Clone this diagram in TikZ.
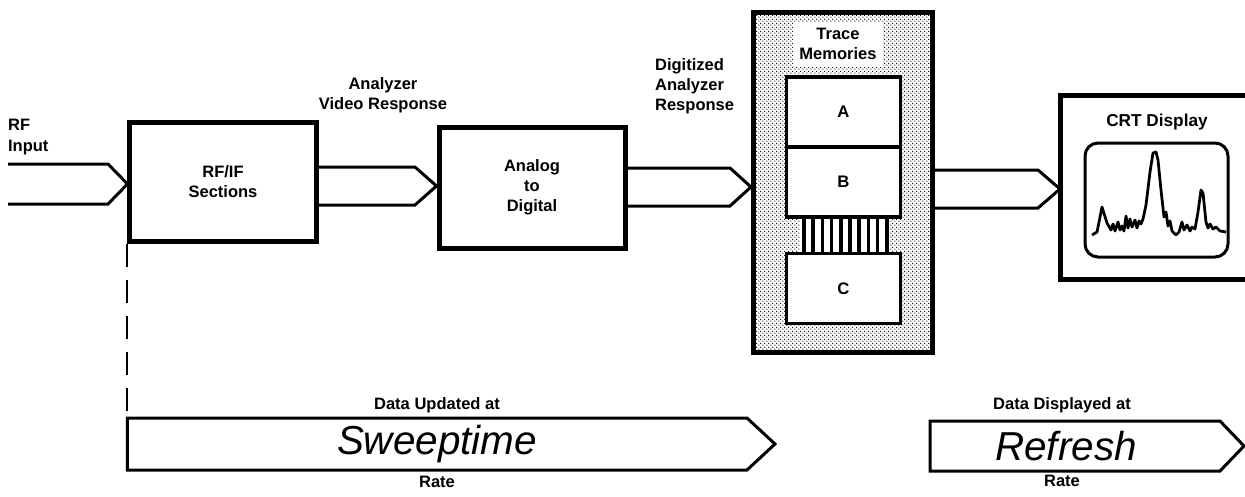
\documentclass[tikz,border=0pt]{standalone}
\usepackage{fontspec}
\setmainfont{Liberation Sans}
\usetikzlibrary{patterns}
\pgfdeclarepatternformonly{memdots}{\pgfpointorigin}{\pgfqpoint{2.4pt}{2.4pt}}{\pgfqpoint{2.4pt}{2.4pt}}{%
  \pgfpathcircle{\pgfqpoint{0.6pt}{0.6pt}}{0.42pt}%
  \pgfpathcircle{\pgfqpoint{1.8pt}{1.8pt}}{0.42pt}%
  \pgfusepath{fill}}
\tikzset{
  blok/.style   = {rectangle, draw, line width=1mm, font=\fontsize{9.4}{11.5}\selectfont\bfseries, align=center},
  mem/.style    = {rectangle, draw, line width=0.65mm, fill=white, minimum width=22.8mm, minimum height=14mm, font=\fontsize{9.5}{11.5}\selectfont\bfseries},
  et/.style     = {font=\fontsize{9.4}{11.5}\selectfont\bfseries, align=center, inner sep=1pt},
  bigtxt/.style = {font=\fontsize{23}{26}\selectfont\itshape, inner sep=0pt},
  bus/.style    = {line width=0.6mm},
  heavy/.style  = {line width=1mm},
  flag/.style   = {line width=0.6mm, line join=miter},
  bar/.style    = {line width=0.75mm},
  dashline/.style = {line width=0.4mm, dash pattern=on 4.6mm off 2.6mm}
}
\begin{document}
\begin{tikzpicture}[x=0.2mm, y=-0.2mm]
  \useasboundingbox (0,0) rectangle (1245,497);

  % main blocks
  \node[blok, minimum width=37.2mm, minimum height=23.8mm] (rfif) at (223,181.5) {RF/IF\\Sections};
  \node[blok, minimum width=37.2mm, minimum height=24.2mm] (adc) at (532,187.5) {Analog\\to\\Digital};
  \node[blok, pattern=memdots, minimum width=35.8mm, minimum height=68mm] (trace) at (843,182.5) {};

  % trace memories
  \node[et, fill=white, minimum width=18mm, minimum height=9mm] (tlbl) at (838,44) {Trace\\Memories};
  \node[mem] (memA) at (843.5,112) {A};
  \node[mem] (memB) at (843.5,182) {B};
  \node[mem] (memC) at (843.5,288.5) {C};
  \fill[white] (800,0 |- memB.south) rectangle (890,0 |- memC.north);
  \foreach \x in {804,813.2,...,888}
    \draw[bar] (\x,0 |- memB.south) -- (\x,0 |- memC.north);

  % CRT
  \coordinate (crtNW) at (1060,95);
  \coordinate (crtSW) at (1060,279);
  \draw[heavy] (1245,95) -- (crtNW) -- (crtSW) -- (1245,279);
  \node[et, font=\fontsize{9.8}{11.5}\selectfont\bfseries] (crtlbl) at (1157,122) {CRT Display};
  \draw[bus, rounded corners=2.6mm] (1085,143) rectangle (1228,257);
  \draw[line width=0.55mm, line join=round] (1092,235) -- (1097,232) -- (1102,207) -- (1107,223) -- (1111,230)
    -- (1113,224) -- (1115,231) -- (1118,222) -- (1120,230) -- (1122,226) -- (1124,231) -- (1126,216)
    -- (1128,228) -- (1130,219) -- (1132,227) -- (1135,220) -- (1137,228) -- (1139,221) -- (1141,224)
    -- (1143,219) -- (1146,205) -- (1150,172) -- (1153,153) -- (1156,152) -- (1158,160) -- (1161,190)
    -- (1164,217) -- (1166,212) -- (1168,226) -- (1170,221) -- (1172,231) -- (1176,235) -- (1179,232)
    -- (1182,222) -- (1184,230) -- (1187,225) -- (1190,231) -- (1192,227) -- (1195,229) -- (1198,212)
    -- (1201,190) -- (1203,193) -- (1206,222) -- (1208,228) -- (1210,224) -- (1213,229) -- (1216,227)
    -- (1220,231) -- (1226,232);

  % bus arrows
  \coordinate (rfsrc) at (8,184);
  \draw[bus] (rfsrc |- 0,164) -- (108,164) -- (rfif.west |- 0,184) -- (108,204) -- (rfsrc |- 0,204);
  \draw[bus] (rfif.east |- 0,167) -- (415,167) -- (adc.west |- 0,186) -- (415,205) -- (rfif.east |- 0,205);
  \draw[bus] (adc.east |- 0,168) -- (730,168) -- (trace.west |- 0,187) -- (730,206) -- (adc.east |- 0,206);
  \draw[bus] (trace.east |- 0,170) -- (1038,170) -- (crtNW |- 0,189) -- (1038,208) -- (trace.east |- 0,208);

  % labels
  \node[et, align=left, anchor=west] (rfin) at (6,137) {RF\\Input};
  \node[et] (avr) at (383,95) {Analyzer\\Video Response};
  \node[et, align=left, anchor=west] (dar) at (653,86) {Digitized\\Analyzer\\Response};

  % rate arrows
  \coordinate (swp) at (rfif.south west |- 0,418);
  \draw[dashline] (rfif.south west) -- (swp);
  \draw[flag] (swp) -- (747,418) -- (775,444) -- (747,470) -- (swp |- 0,470) -- cycle;
  \draw[flag] (930,421) -- (1220,421) -- (1244,446) -- (1220,471) -- (930,471) -- cycle;
  \node[et] (upd) at (437,405) {Data Updated at};
  \node[bigtxt] (swt) at (437,444) {Sweeptime};
  \node[et] (rate1) at (437,482) {Rate};
  \node[et] (disp) at (1062,405) {Data Displayed at};
  \node[bigtxt] (rfr) at (1066,446) {Refresh};
  \node[et] (rate2) at (1062,481) {Rate};
\end{tikzpicture}
\end{document}
